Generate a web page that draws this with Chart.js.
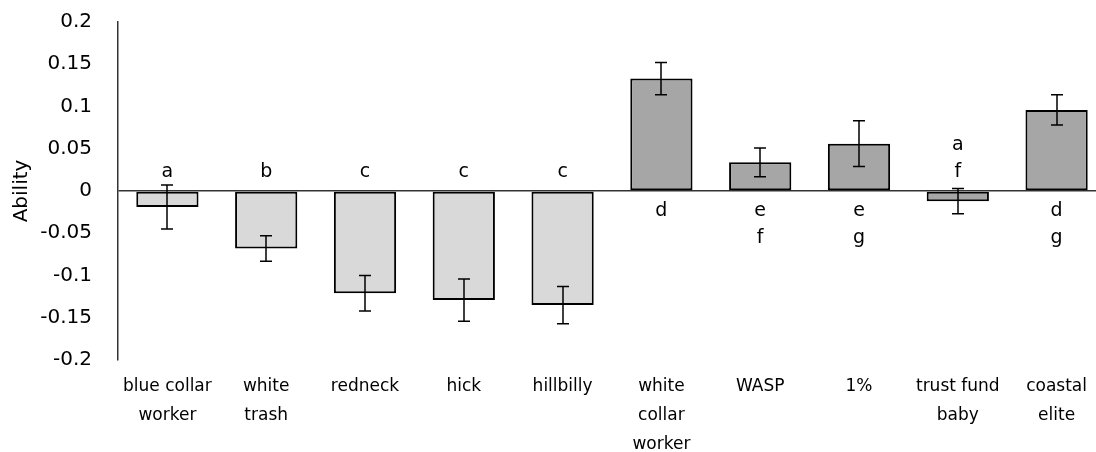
<!DOCTYPE html>
<html>
<head>
<meta charset="utf-8">
<script src="https://cdn.jsdelivr.net/npm/chart.js@4"></script>
<style>
  html, body { margin: 0; padding: 0; background: #fff; overflow: hidden; }
  #wrap { width: 1106px; height: 452px; position: relative; }
</style>
</head>
<body>
<div id="wrap"><canvas id="abilityChart"></canvas></div>
<script>
// Ability ratings per group label
const categories = [
    ['blue collar', 'worker'], ['white', 'trash'], 'redneck', 'hick', 'hillbilly',
    ['white', 'collar', 'worker'], 'WASP', '1%', ['trust fund', 'baby'], ['coastal', 'elite']
];
const abilityMeans = [-0.019, -0.068, -0.121, -0.129, -0.135, 0.133, 0.034, 0.056, -0.012, 0.096];
const abilityErrors = [0.026, 0.015, 0.021, 0.025, 0.022, 0.019, 0.017, 0.027, 0.015, 0.018];
const groupLetters = [['a'], ['b'], ['c'], ['c'], ['c'], ['d'], ['e', 'f'], ['e', 'g'], ['a', 'f'], ['d', 'g']];
const yTicks = [-0.2, -0.15, -0.1, -0.05, 0, 0.05, 0.1, 0.15, 0.2];

const LOW_STATUS_COUNT = 5; // first five are the "low status" labels, lighter fill
const FONT = "'DejaVu Sans', sans-serif";

const errorBars = {
    id: 'errorBars',
    afterDatasetsDraw(chart) {
        const { ctx, scales: { y } } = chart;
        const meta = chart.getDatasetMeta(0);
        ctx.save();
        ctx.strokeStyle = '#000';
        ctx.lineWidth = 1.5;
        meta.data.forEach((bar, i) => {
            const x = Math.round(bar.x);
            const top = y.getPixelForValue(abilityMeans[i] + abilityErrors[i]);
            const bot = y.getPixelForValue(abilityMeans[i] - abilityErrors[i]);
            ctx.beginPath();
            ctx.moveTo(x, top); ctx.lineTo(x, bot);
            ctx.moveTo(x - 6, top); ctx.lineTo(x + 6, top);
            ctx.moveTo(x - 6, bot); ctx.lineTo(x + 6, bot);
            ctx.stroke();
        });
        ctx.restore();
    }
};

const letterLabels = {
    id: 'letterLabels',
    afterDatasetsDraw(chart) {
        const { ctx, scales: { y } } = chart;
        const meta = chart.getDatasetMeta(0);
        const zero = y.getPixelForValue(0);
        const step = 27;
        ctx.save();
        ctx.fillStyle = '#000';
        ctx.font = `19px ${FONT}`;
        ctx.textAlign = 'center';
        ctx.textBaseline = 'middle';
        meta.data.forEach((bar, i) => {
            const letters = groupLetters[i];
            letters.forEach((l, k) => {
                let cy;
                if (abilityMeans[i] < 0) {
                    // stack above the zero line
                    cy = zero - 19 - (letters.length - 1 - k) * step;
                } else {
                    cy = zero + 20 + k * step;
                }
                ctx.fillText(l, bar.x, cy);
            });
        });
        ctx.restore();
    }
};

new Chart(document.getElementById('abilityChart'), {
    type: 'bar',
    data: {
        labels: categories,
        datasets: [{
            label: 'Ability',
            data: abilityMeans,
            backgroundColor: abilityMeans.map((_, i) => i < LOW_STATUS_COUNT ? '#d9d9d9' : '#a6a6a6'),
            borderColor: '#000',
            borderWidth: 2,
            borderSkipped: false,
            categoryPercentage: 1,
            barPercentage: 0.63
        }]
    },
    options: {
        responsive: true,
        maintainAspectRatio: false,
        animation: false,
        layout: { padding: { top: 22, right: 0, bottom: 0, left: 0 } },
        plugins: {
            legend: { display: false },
            tooltip: { enabled: false }
        },
        scales: {
            x: {
                grid: { display: false, drawTicks: false },
                border: { display: false },
                ticks: {
                    color: '#000',
                    padding: 12,
                    maxRotation: 0,
                    autoSkip: false,
                    font: { family: FONT, size: 17, lineHeight: 1.7 }
                },
                afterFit(scale) { scale.height = 92; }
            },
            y: {
                min: -0.2,
                max: 0.2,
                afterBuildTicks(scale) { scale.ticks = yTicks.map(v => ({ value: v })); },
                grid: {
                    drawTicks: false,
                    lineWidth: 1.5,
                    color: ctx => (Math.abs(ctx.tick.value) < 1e-9 ? '#333' : 'transparent')
                },
                border: { display: true, color: '#333', width: 1.5 },
                ticks: {
                    color: '#000',
                    padding: 26,
                    font: { family: FONT, size: 20 },
                    callback: v => String(+Number(v).toFixed(2))
                },
                title: {
                    display: true,
                    text: 'Ability',
                    color: '#000',
                    padding: { top: 10, bottom: 0 },
                    font: { family: FONT, size: 20 }
                },
                afterFit(scale) {
                    scale.width = 118;
                    // label padding would otherwise push the plot top down
                    scale.paddingTop = 0;
                    scale.paddingBottom = 0;
                }
            }
        }
    },
    plugins: [errorBars, letterLabels]
});
</script>
</body>
</html>
